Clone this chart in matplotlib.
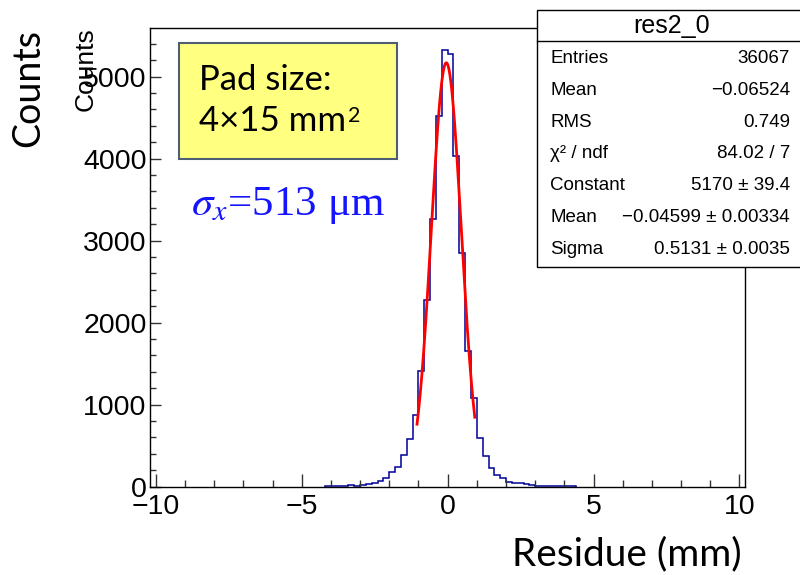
import numpy as np
import matplotlib
matplotlib.use("Agg")
import matplotlib.pyplot as plt
from matplotlib.patches import Rectangle
from matplotlib.ticker import MultipleLocator

# Residue histogram: 0.2 mm bins, populated range starts at -4.2 mm
bin_start = -4.2
bin_width = 0.2
counts = [5, 6, 6, 7, 20, 12, 24, 33, 45, 73, 106, 185, 235, 390, 580, 877,
          1406, 2274, 3260, 4516, 5330,
          5278, 4027, 2845, 1650, 1080, 592, 380, 225, 143, 102,
          60, 45, 40, 30, 22, 6, 5, 5, 4, 4, 4, 3]

# Gaussian fit result
fit_constant = 5170.0
fit_mean = -0.04599
fit_sigma = 0.5131
fit_range = (-1.05, 0.93)

# Statistics box
stats_title = "res2_0"
stats_names = ["Entries", "Mean", "RMS", "χ² / ndf", "Constant", "Mean", "Sigma"]
stats_values = ["36067", "−0.06524", "0.749", "84.02 / 7",
                f"{fit_constant:.0f} ± 39.4",
                f"{fit_mean:.5f} ± 0.00334".replace("-", "−"),
                f"{fit_sigma:.4f} ± 0.0035"]

x_ticks = [-10, -5, 0, 5, 10]
y_ticks = [0, 1000, 2000, 3000, 4000, 5000]

plt.rcParams["mathtext.fontset"] = "stix"

W, H = 800, 575
fig = plt.figure(figsize=(W / 100, H / 100), dpi=100)

ax_l, ax_r, ax_t, ax_b = 150, 745.3, 28.3, 486.7
ax = fig.add_axes([ax_l / W, 1 - ax_b / H, (ax_r - ax_l) / W, (ax_b - ax_t) / H])

edges = bin_start + bin_width * np.arange(len(counts) + 1)
ax.stairs(counts, edges, color="#000099", lw=1.1)

xf = np.linspace(fit_range[0], fit_range[1], 300)
yf = fit_constant * np.exp(-0.5 * ((xf - fit_mean) / fit_sigma) ** 2)
ax.plot(xf, yf, color="#ff0000", lw=2.0)

ax.set_xlim(-10.2, 10.2)
ax.set_ylim(0, 5590)
ax.set_xticks(x_ticks)
ax.set_yticks(y_ticks)
ax.xaxis.set_minor_locator(MultipleLocator(1))
ax.yaxis.set_minor_locator(MultipleLocator(200))
ax.tick_params(axis="x", which="major", direction="in", length=9.5, width=1, pad=5.5)
ax.tick_params(axis="x", which="minor", direction="in", length=4.8, width=1)
ax.tick_params(axis="y", which="major", direction="in", length=8, width=1, pad=2.5)
ax.tick_params(axis="y", which="minor", direction="in", length=4.5, width=1)
ax.tick_params(which="both", color="#333333", labelsize=20.5,
               labelfontfamily="Liberation Sans")
for s in ax.spines.values():
    s.set_linewidth(1.0)
    s.set_color("black")

# Overlay in pixel coordinates for annotations
ov = fig.add_axes([0, 0, 1, 1], zorder=5)
ov.set_xlim(0, W)
ov.set_ylim(H, 0)
ov.axis("off")

# ROOT y-axis title
ov.text(86, 27, "Counts", rotation=90, ha="center", va="top",
        family="Liberation Sans", fontsize=19)

# Slide-level axis titles
ov.text(28, 88, "Counts", rotation=90, ha="center", va="center",
        family="Lato", fontsize=27)
ov.text(627, 565, "Residue (mm)", ha="center", va="baseline",
        family="Lato", fontsize=28)

# Pad size callout
ov.add_patch(Rectangle((179.3, 42.7), 218, 116.3, facecolor="#ffff80",
                       edgecolor="#4e5f73", lw=1.5))
ov.text(199, 90, "Pad size:", ha="left", va="baseline", family="Lato",
        fontsize=25, color="black")
pad_dim = ov.text(199, 131, "4×15 mm", ha="left", va="baseline", family="Lato",
                  fontsize=25, color="black")
fig.canvas.draw()
bb = pad_dim.get_window_extent()
x_end = ov.transData.inverted().transform((bb.x1, bb.y0))[0]
ov.text(x_end + 1.5, 122, "2", ha="left", va="baseline", family="Lato",
        fontsize=15.5, color="black")

ov.text(191, 215, r"$\sigma_x$=" + f"{fit_sigma * 1000:.0f} μm", ha="left",
        va="baseline", family="Liberation Serif", fontsize=31, color="#1414ff")

# Statistics box
bx0, by0, bx1, by1 = 537, 10, 806, 267
ov.add_patch(Rectangle((bx0, by0), bx1 - bx0, by1 - by0, facecolor="white",
                       edgecolor="black", lw=1.0))
ov.plot([bx0, bx1], [41, 41], color="black", lw=1.0)
ov.text((bx0 + bx1) / 2, 26, stats_title, ha="center", va="center",
        family="Liberation Sans", fontsize=18)
for i, (name, val) in enumerate(zip(stats_names, stats_values)):
    y = 58.5 + i * 31.8
    ov.text(550, y, name, ha="left", va="center", family="Liberation Sans", fontsize=13.5)
    ov.text(790, y, val, ha="right", va="center", family="Liberation Sans", fontsize=13.5)

fig.savefig("out.png", dpi=100)
